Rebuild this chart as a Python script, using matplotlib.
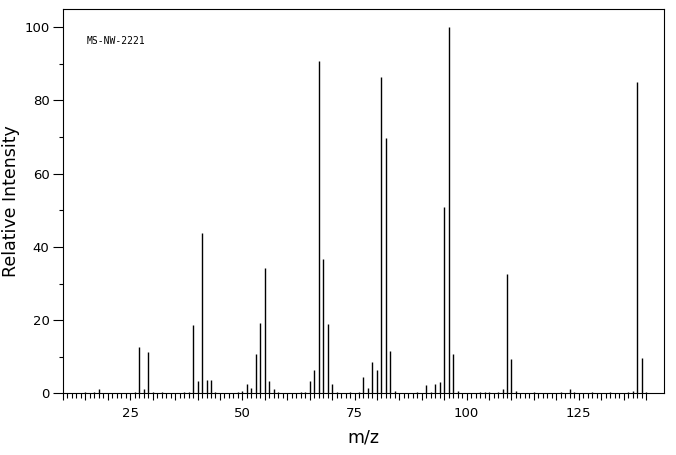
import matplotlib
matplotlib.use("Agg")
import matplotlib.pyplot as plt
from matplotlib.ticker import FixedLocator, FuncFormatter

# peak list (m/z, relative intensity)
mz = [15, 17, 18, 26, 27, 28, 29, 30, 32, 37, 38, 39, 40, 41, 42, 43, 44,
      49, 50, 51, 52, 53, 54, 55, 56, 57, 58, 63, 64, 65, 66, 67, 68, 69, 70, 71,
      74, 76, 77, 78, 79, 80, 81, 82, 83, 84, 89, 91, 92, 93, 94, 95, 96, 97, 98,
      103, 104, 105, 107, 108, 109, 110, 111, 115, 121, 123, 124, 128, 132, 136,
      137, 138, 139, 140]
intensity = [0.5, 0.3, 1.1, 0.5, 12.8, 1.1, 11.2, 0.3, 0.3, 0.3, 0.5, 18.6, 3.3, 43.7, 3.8, 3.8, 0.3,
             0.3, 0.8, 2.7, 1.6, 10.9, 19.1, 34.2, 3.3, 1.1, 0.3, 0.4, 0.3, 3.3, 6.5, 90.7, 36.6, 18.9, 2.5, 0.3,
             0.3, 0.3, 4.4, 1.4, 8.7, 6.3, 86.3, 69.7, 11.7, 0.8, 0.3, 2.2, 0.3, 2.7, 3.0, 50.8, 100, 10.9, 0.8,
             0.3, 0.3, 0.3, 0.5, 1.2, 32.5, 9.3, 0.8, 0.3, 0.3, 1.3, 0.3, 0.3, 0.3, 0.3,
             0.8, 85.0, 9.6, 0.5]
y_ticks = [0, 20, 40, 60, 80, 100]
x_labels = [25, 50, 75, 100, 125]

fig = plt.figure(figsize=(6.76, 4.55), dpi=100)
ax = fig.add_axes([0.0932, 0.1352, 0.889, 0.8444])

ax.vlines(mz, 0, intensity, colors="black", linewidth=1.0)

ax.set_xlim(10, 144)
ax.set_ylim(0, 104.8)

ax.yaxis.set_major_locator(FixedLocator(y_ticks))
ax.yaxis.set_minor_locator(FixedLocator([10, 30, 50, 70, 90]))
ax.xaxis.set_major_locator(FixedLocator(range(10, 141, 5)))
ax.xaxis.set_minor_locator(FixedLocator(range(10, 141)))
ax.xaxis.set_major_formatter(FuncFormatter(lambda v, p: str(int(v)) if int(v) in x_labels else ""))

ax.tick_params(axis="y", which="major", length=7.2, width=0.8, labelsize=9.5, pad=2.5)
ax.tick_params(axis="y", which="minor", length=3, width=0.8)
ax.tick_params(axis="x", which="major", length=5, width=0.8, labelsize=9.5, pad=5)
ax.tick_params(axis="x", which="minor", length=3.5, width=0.8)
for t in ax.xaxis.get_major_ticks():
    if round(t.get_loc()) in x_labels:
        t.tick1line.set_markersize(7.5)

for s in ax.spines.values():
    s.set_linewidth(0.8)

ax.set_xlabel("m/z", fontsize=12.5, labelpad=6)
ax.set_ylabel("Relative Intensity", fontsize=12.5, labelpad=3)
ax.text(0.04, 0.917, "MS-NW-2221", transform=ax.transAxes, fontsize=7,
        family="DejaVu Sans Mono", va="center")

fig.savefig("out.png", dpi=100)
